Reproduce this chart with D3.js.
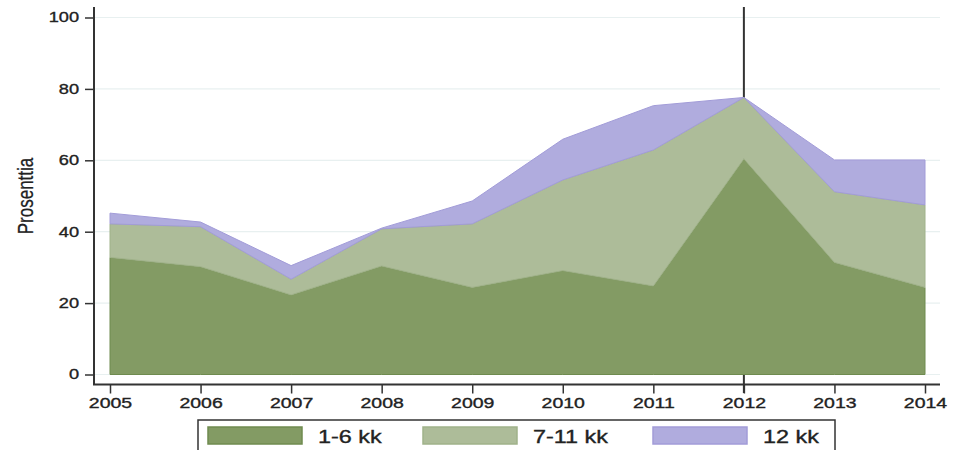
<!DOCTYPE html>
<html>
<head>
<meta charset="utf-8">
<script src="https://cdn.jsdelivr.net/npm/d3@7"></script>
<style>
body { margin: 0; background: #fff; }
svg text { font-family: "Liberation Sans", Arial, sans-serif; fill: #222; stroke: #222; stroke-width: 0.35px; }
</style>
</head>
<body>
<svg id="chart" width="954" height="450"></svg>
<script>
// Share of children per age group, stacked (percent)
var years = [2005, 2006, 2007, 2008, 2009, 2010, 2011, 2012, 2013, 2014];
var kk_1_6 = [32.8, 30.2, 22.3, 30.4, 24.4, 29.1, 24.8, 60.4, 31.4, 24.4];
var kk_7_11 = [9.4, 11.2, 4.4, 10.4, 17.8, 25.4, 38.1, 17.2, 19.8, 23.1];
var kk_12 = [3.0, 1.3, 3.8, 0.2, 6.4, 11.4, 12.4, 0.0, 8.9, 12.6];
var series_keys = ["1-6 kk", "7-11 kk", "12 kk"];
var y_ticks = [0, 20, 40, 60, 80, 100];
var marker_year = 2012;

var fills = ["#839b64", "#adbc99", "#b0acde"];
var edges = ["#6f8b4f", "#a0b28a", "#a29cd8"];

// the original picture is stretched sideways, so text is too
var SX = 1.3;

var svg = d3.select("#chart");

var x = d3.scaleLinear().domain([2005, 2014]).range([110, 925]);
var y = d3.scaleLinear().domain([0, 100]).range([374.5, 17.5]);

var rows = years.map(function(yr, i){
    return {"year": yr, "1-6 kk": kk_1_6[i], "7-11 kk": kk_7_11[i], "12 kk": kk_12[i]};
});
var stacked = d3.stack().keys(series_keys)(rows);

// grid lines
svg.append("g").selectAll("line")
    .data(y_ticks)
    .enter().append("line")
    .attr("x1", 94).attr("x2", 940)
    .attr("y1", function(d){ return y(d); })
    .attr("y2", function(d){ return y(d); })
    .attr("stroke", "#e8f0f0")
    .attr("stroke-width", 1.2);

// marker line at 2012, sits behind the areas
svg.append("line")
    .attr("x1", x(marker_year)).attr("x2", x(marker_year))
    .attr("y1", 7).attr("y2", 393)
    .attr("stroke", "#333")
    .attr("stroke-width", 2);

var area = d3.area()
    .x(function(d){ return x(d.data.year); })
    .y0(function(d){ return y(d[0]); })
    .y1(function(d){ return y(d[1]); });

svg.append("g").selectAll("path")
    .data(stacked)
    .enter().append("path")
    .attr("d", area)
    .attr("fill", function(d, i){ return fills[i]; })
    .attr("stroke", function(d, i){ return edges[i]; })
    .attr("stroke-width", 1);

// y axis
var yAxis = svg.append("g")
    .attr("transform", "translate(94,0)")
    .call(d3.axisLeft(y).tickValues(y_ticks).tickSize(9).tickPadding(6));
yAxis.select(".domain").remove();
yAxis.append("line")
    .attr("x1", 0).attr("x2", 0)
    .attr("y1", 7).attr("y2", 385)
    .attr("stroke", "#333").attr("stroke-width", 2);
yAxis.selectAll(".tick line").attr("stroke", "#333").attr("stroke-width", 1.5);
yAxis.selectAll(".tick text")
    .attr("x", -15 / SX)
    .attr("transform", "scale(" + SX + ",1)")
    .style("font-size", "14px")
    .style("fill", "#222");

// x axis
var xAxis = svg.append("g")
    .attr("transform", "translate(0,384.5)")
    .call(d3.axisBottom(x).tickValues(years).tickFormat(d3.format("d")).tickSize(9).tickPadding(4));
xAxis.select(".domain").remove();
xAxis.append("line")
    .attr("x1", 93).attr("x2", 940)
    .attr("stroke", "#333").attr("stroke-width", 2);
xAxis.selectAll(".tick line").attr("stroke", "#333").attr("stroke-width", 1.5);
xAxis.selectAll(".tick text")
    .attr("transform", "scale(" + SX + ",1)")
    .style("font-size", "15px")
    .style("fill", "#222");

// y title
svg.append("text")
    .attr("transform", "translate(33,196) scale(" + SX + ",1) rotate(-90)")
    .attr("text-anchor", "middle")
    .style("font-size", "17px")
    .style("stroke-width", "0.2px")
    .text("Prosenttia");

// legend
var legend = svg.append("g");
legend.append("rect")
    .attr("x", 198).attr("y", 420)
    .attr("width", 637).attr("height", 40)
    .attr("fill", "#fff")
    .attr("stroke", "#333")
    .attr("stroke-width", 1.5);

var swatch_x = [208, 423, 653];
var label_x = [318, 533, 763];
var items = legend.selectAll(".item")
    .data(series_keys)
    .enter().append("g")
    .classed("item", true);
items.append("rect")
    .attr("x", function(d, i){ return swatch_x[i]; })
    .attr("y", 427)
    .attr("width", 94).attr("height", 17)
    .attr("fill", function(d, i){ return fills[i]; })
    .attr("stroke", function(d, i){ return edges[i]; })
    .attr("stroke-width", 1.5);
items.append("text")
    .attr("transform", function(d, i){
        return "translate(" + label_x[i] + ",442.5) scale(" + SX + ",1)";
    })
    .style("font-size", "18px")
    .text(function(d){ return d; });
</script>
</body>
</html>
